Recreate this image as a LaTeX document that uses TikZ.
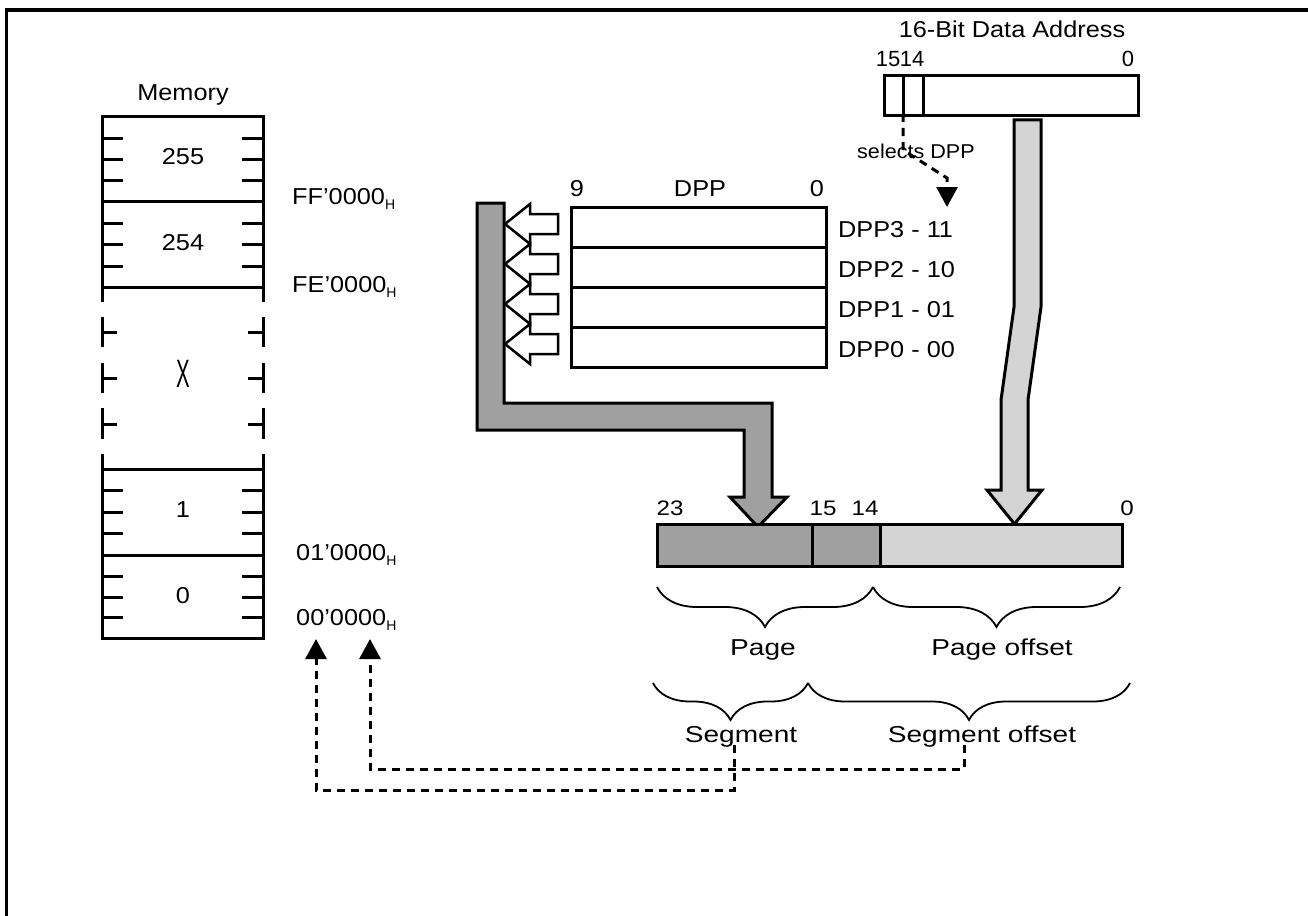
\documentclass[tikz,border=0pt]{standalone}
\usepackage{fontspec}
\setmainfont{Liberation Sans}
\usetikzlibrary{arrows.meta,decorations.pathreplacing}
\definecolor{darkfill}{RGB}{160,160,160}
\definecolor{lightfill}{RGB}{212,212,212}
\newcommand{\sx}[2]{\scalebox{#1}[1]{#2}}
\newcommand{\Hs}{\raisebox{-5pt}{\fontsize{14}{14}\selectfont H}}
\tikzset{
  lbl/.style={inner sep=0pt, anchor=base, font=\fontsize{23}{27}\selectfont},
  lblw/.style={lbl, anchor=base west},
  smlbl/.style={inner sep=0pt, anchor=base, font=\fontsize{22}{26}\selectfont},
  thickline/.style={line width=3pt},
  memline/.style={line width=3pt},
  regbox/.style={draw, line width=3pt, inner sep=0pt, anchor=north west},
  hollowarrow/.style={draw, fill=white, line width=2.5pt, line join=miter},
  grayarrow/.style={draw, line width=3pt, line join=miter},
  dashconn/.style={line width=3pt, dash pattern=on 8pt off 6pt, -{Triangle[width=21pt,length=20pt]}},
  bracestyle/.style={line width=1.8pt, decorate, decoration={brace, amplitude=#1}},
}
\begin{document}
\begin{tikzpicture}[x=1pt,y=-1pt]
\useasboundingbox (0,0) rectangle (1308,915);
\clip (0,0) rectangle (1308,915);
% frame
\draw[line width=3.5pt] (6.5,10) rectangle (1340,950);

% ---------------- Memory column ----------------
\node[lbl] (memt) at (183,101) {\sx{1.1}{Memory}};
\draw[memline] (102,302) -- (102,117) -- (263,117) -- (263,302);
\draw[memline] (102,201) -- (263,201);
\draw[memline] (102,287) -- (263,287);
\draw[memline] (102,454) -- (102,638) -- (263,638) -- (263,454);
\draw[memline] (102,469) -- (263,469);
\draw[memline] (102,555) -- (263,555);
\foreach \a/\b in {317/347,363/393,408/439}{
  \draw[memline] (102,\a) -- (102,\b);
  \draw[memline] (263,\a) -- (263,\b);
}
\foreach \t in {332,378,424}{
  \draw[memline] (102,\t) -- (117,\t);
  \draw[memline] (248,\t) -- (263,\t);
}
\foreach \t in {138,159,180,223,244,266,490,512,533,576,597,617}{
  \draw[memline] (102,\t) -- (123,\t);
  \draw[memline] (242,\t) -- (263,\t);
}
\node[lbl] (m255) at (183,164) {\sx{1.1}{255}};
\node[lbl] (m254) at (183,250) {\sx{1.1}{254}};
\node[inner sep=0pt, font=\fontsize{24}{28}\selectfont] (mx) at (183,374) {\scalebox{0.85}[1.65]{X}};
\node[lbl] (m1) at (183,517) {\sx{1.1}{1}};
\node[lbl] (m0) at (183,603) {\sx{1.1}{0}};

\node[lblw] (aff) at (292,204) {\sx{1.1}{FF’0000}\Hs};
\node[lblw] (afe) at (292,292) {\sx{1.1}{FE’0000}\Hs};
\node[lblw] (a01) at (296,560) {\sx{1.1}{01’0000}\Hs};
\node[lblw] (a00) at (296,625) {\sx{1.1}{00’0000}\Hs};

% ---------------- DPP registers ----------------
\node[regbox, minimum width=255pt, minimum height=40pt] (dpp3) at (570,206) {};
\node[regbox, minimum width=255pt, minimum height=40pt] (dpp2) at (570,246) {};
\node[regbox, minimum width=255pt, minimum height=40pt] (dpp1) at (570,286) {};
\node[regbox, minimum width=255pt, minimum height=40pt] (dpp0) at (570,326) {};
\node[lbl] (d9) at (577,196) {\sx{1.1}{9}};
\node[lbl] (dt) at (700,196) {\sx{1.1}{DPP}};
\node[lbl] (d0) at (817,196) {\sx{1.1}{0}};
\node[lblw] (l3) at (838,237) {\sx{1.1}{DPP3 - 11}};
\node[lblw] (l2) at (838,277) {\sx{1.1}{DPP2 - 10}};
\node[lblw] (l1) at (838,317) {\sx{1.1}{DPP1 - 01}};
\node[lblw] (l0) at (838,357) {\sx{1.1}{DPP0 - 00}};

% gray L-shaped arrow (page number)
\filldraw[grayarrow, fill=darkfill] (477,203) -- (504,203) -- (504,403) -- (772,403) -- (772,497)
  -- (787,497) -- (758,527) -- (730,497) -- (744,497) -- (744,430) -- (477,430) -- cycle;

% hollow arrows from DPP registers
\foreach \c in {224,264,304,344}{
  \draw[hollowarrow] (505,\c) -- (530,\c-20) -- (530,\c-10) -- (558,\c-10) -- (558,\c+10)
    -- (530,\c+10) -- (530,\c+20) -- cycle;
}

% ---------------- 16-bit address ----------------
\node[lbl] (at) at (1012,38) {\sx{1.1}{16-Bit Data Address}};
\node[smlbl] (a15) at (888,67) {15};
\node[smlbl] (a14) at (912,67) {14};
\node[smlbl] (a0) at (1128,67) {0};
\node[regbox, minimum width=254pt, minimum height=40pt] (addr) at (883,74) {};
\draw[thickline] (903,74) -- (903,114);
\draw[thickline] (923,74) -- (923,114);
\coordinate (b15) at (903,114);
\node[inner sep=0pt, anchor=base, font=\fontsize{20}{24}\selectfont] (sel) at (916,158) {\sx{1.08}{selects DPP}};
\coordinate (selbend) at (947,178);
\coordinate (seltip) at (947,207);
\draw[dashconn] (b15) -- (903,150) -- (selbend) -- (seltip);

% light gray arrow (offset)
\filldraw[grayarrow, fill=lightfill] (1014,120) -- (1041,120) -- (1041,307) -- (1028,400) -- (1028,490)
  -- (1042,490) -- (1014.5,524) -- (987,490) -- (1001,490) -- (1001,400) -- (1014,307) -- cycle;

% ---------------- 24-bit physical address ----------------
\node[regbox, fill=darkfill, minimum width=155pt, minimum height=42pt] (p23) at (656,523) {};
\node[regbox, fill=darkfill, minimum width=68pt, minimum height=42pt] (p15) at (811,523) {};
\node[regbox, fill=lightfill, minimum width=242pt, minimum height=42pt] (p14) at (879,523) {};
\node[inner sep=0pt, anchor=base, font=\fontsize{21}{25}\selectfont] (r23) at (670,515) {\sx{1.15}{23}};
\node[inner sep=0pt, anchor=base, font=\fontsize{21}{25}\selectfont] (r15) at (823,515) {\sx{1.15}{15}};
\node[inner sep=0pt, anchor=base, font=\fontsize{21}{25}\selectfont] (r14) at (865,515) {\sx{1.15}{14}};
\node[inner sep=0pt, anchor=base, font=\fontsize{21}{25}\selectfont] (r0) at (1127,515) {\sx{1.15}{0}};

% braces
\draw[bracestyle=40pt] (873,587) -- (657,587);
\draw[bracestyle=40pt] (1120,587) -- (873,587);
\draw[bracestyle=37pt] (808,683) -- (653,683);
\draw[bracestyle=37pt] (1130,683) -- (808,683);
\node[lbl] (pg) at (763,655) {\sx{1.22}{Page}};
\node[lbl] (pgo) at (1002,655) {\sx{1.22}{Page offset}};
\node[lbl] (sg) at (741,742) {\sx{1.22}{Segment}};
\node[lbl] (sgo) at (982,742) {\sx{1.22}{Segment offset}};

% dashed connectors to memory addresses
\coordinate (s1) at (734,745);
\coordinate (s2) at (964,745);
\coordinate (t1) at (316,639);
\coordinate (t2) at (370,639);
\draw[dashconn] (s1) -- (734,790) -- (316,790) -- (t1);
\draw[dashconn] (s2) -- (964,769) -- (370,769) -- (t2);
\end{tikzpicture}
\end{document}
